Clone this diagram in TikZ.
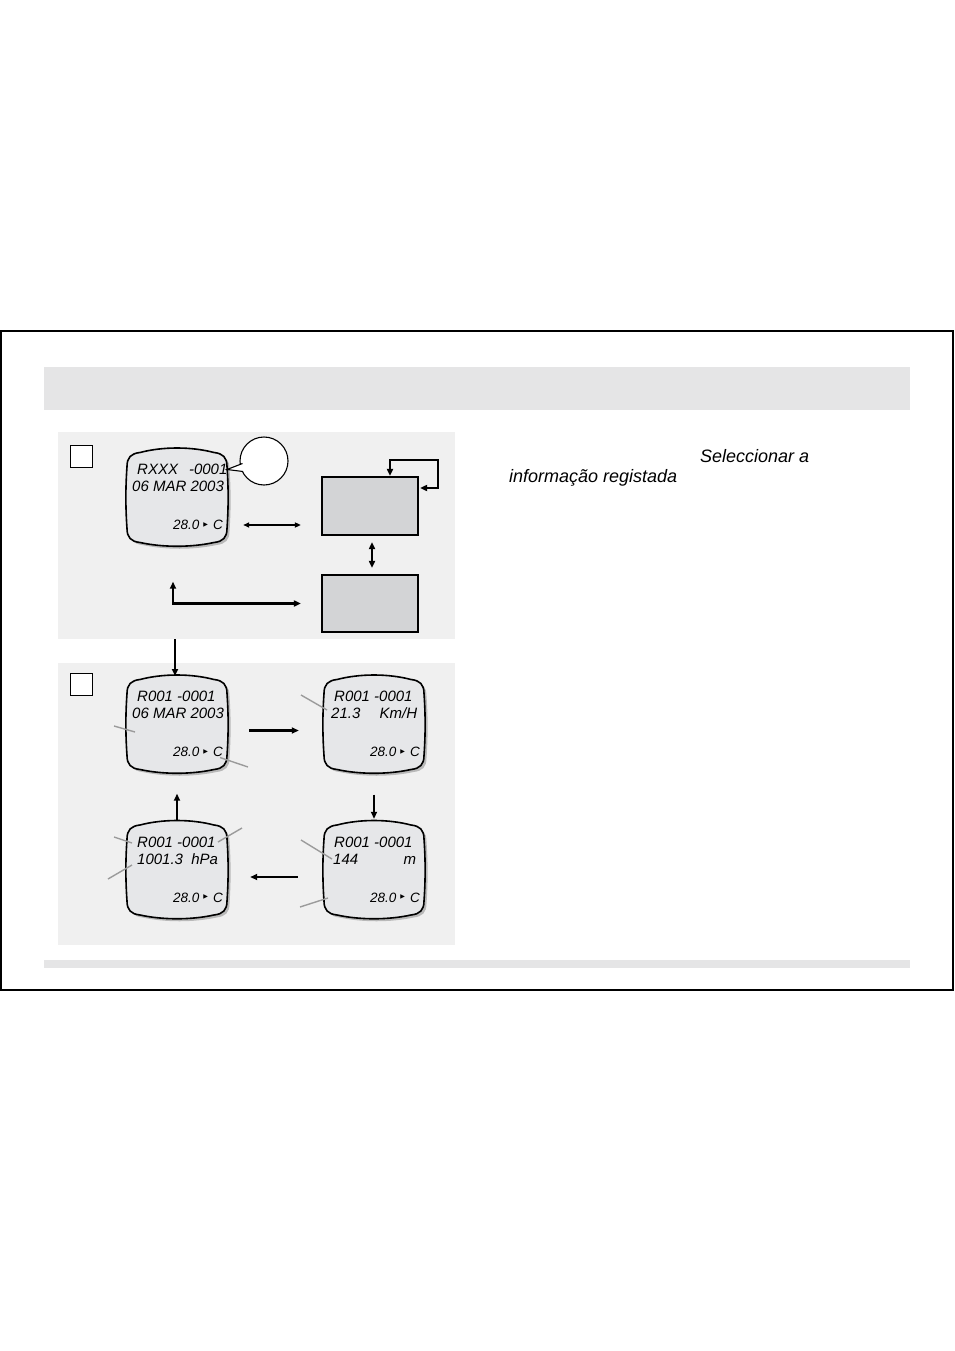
\documentclass[tikz,border=0pt]{standalone}
\usepackage{fontspec}
\setmainfont{Liberation Sans}
\newfontfamily\symfont{DejaVu Sans}
\usetikzlibrary{arrows.meta,calc,positioning}

\definecolor{bandgray}{HTML}{E5E5E6}
\definecolor{panelgray}{HTML}{F0F0F0}
\definecolor{screengray}{HTML}{E6E7E9}
\definecolor{boxgray}{HTML}{D3D4D6}
\definecolor{leadgray}{HTML}{9B9B9B}

% one display screen: name, x, y, first line, second line
\newcommand{\lcdscreen}[5]{%
  \pic at (#2,#3) {lcd};
  \node[lcdbox] (#1) at (#2,#3) {};
  \node[lcdtext, anchor=base west] at ({#2-40},{#3-23}) {#4};
  \node[lcdtext, anchor=base west] at ({#2-45},{#3-6}) {#5};
  \node[temptext, anchor=base east] at ({#2+46},{#3+32}) {28.0\hspace{4pt}\raisebox{3.5pt}{\symfont\fontsize{6}{6}\selectfont ▶}\hspace{5pt}C};
}

\begin{document}
\begin{tikzpicture}[x=1pt,y=-1pt,
    lcdoutline/.style={insert path={(-37,-45) .. controls (-14,-51) and (14,-51) .. (37,-45)
      .. controls (46,-44) and (50,-40) .. (50,-31) .. controls (51.5,-10) and (51.5,10) .. (50,31)
      .. controls (50,40) and (46,44) .. (37,45) .. controls (14,50) and (-14,50) .. (-37,45)
      .. controls (-46,44) and (-50,40) .. (-50,31) .. controls (-51.5,10) and (-51.5,-10) .. (-50,-31)
      .. controls (-50,-40) and (-46,-44) .. (-37,-45) -- cycle}},
    lcd/.pic={
      \fill[gray!55, shift={(2.5,2.5)}, lcdoutline];
      \draw[line width=1.6pt, fill=screengray, lcdoutline];
    },
    lcdbox/.style={rectangle, minimum width=100pt, minimum height=96pt, inner sep=0pt},
    lcdtext/.style={inner sep=0pt, font=\fontsize{15}{17}\selectfont\itshape},
    temptext/.style={inner sep=0pt, font=\fontsize{13.5}{15}\selectfont\itshape},
    infotext/.style={inner sep=0pt, font=\fontsize{18}{20}\selectfont\itshape},
    panel/.style={rectangle, fill=panelgray, inner sep=0pt},
    stepbox/.style={rectangle, draw, fill=white, line width=0.9pt, minimum size=22pt, inner sep=0pt},
    greybox/.style={rectangle, draw, fill=boxgray, line width=2.2pt, minimum width=96pt, inner sep=0pt},
    conn/.style={line width=2.2pt, >={Triangle[length=7pt,width=6pt]}},
    thinconn/.style={line width=1.6pt, >={Triangle[length=6pt,width=5pt]}},
    leader/.style={leadgray, line width=1.4pt}]

\useasboundingbox[fill=white] (0,0) rectangle (954,1351);

% frame and bands
\draw[line width=1.5pt] (1,331) rectangle (953,990);
\fill[bandgray] (44,367) rectangle (910,410);
\fill[bandgray] (44,960) rectangle (910,968);

% panels
\node[panel, minimum width=397pt, minimum height=207pt] (panelOne) at (256.5,535.5) {};
\node[panel, minimum width=397pt, minimum height=282pt] (panelTwo) at (256.5,804) {};
\node[stepbox] (stepOne) at (81,456) {};
\node[stepbox] (stepTwo) at (81,684) {};

% first panel
\lcdscreen{lcdR}{177}{497.5}{RXXX\hspace{11pt}-0001}{06 MAR 2003}
\node[circle, draw, fill=white, line width=1.1pt, minimum size=48pt, inner sep=0pt] (bubble) at (264,461) {};
\fill[white] ($(bubble.center)+(-20,2.5)$) -- ($(bubble.center)+(-37,8.5)$) -- ($(bubble.center)+(-19,10.5)$) -- cycle;
\draw[line width=1.1pt] ($(bubble.center)+(-21.5,2.5)$) -- ($(bubble.center)+(-37,8.5)$) -- ($(bubble.center)+(-21,10.5)$);

\node[greybox, minimum height=58pt] (boxTop) at (370,506) {};
\node[greybox, minimum height=57pt] (boxBot) at (370,603.5) {};

\draw[thinconn, <->] ($(lcdR.east)+(16,27.5)$) -- ($(boxTop.west)+(-20,19)$);
\draw[conn, <->, shorten <=6pt, shorten >=6pt] ([xshift=2pt]boxTop.south) -- ([xshift=2pt]boxBot.north);
\draw[conn, line width=2.8pt, <->] ([xshift=20pt]boxTop.north) -- ++(0,-16) -- ++(48,0) |- ($(boxTop.east)+(1,-18)$);
\draw[conn, <->] ($(lcdR.south)+(-4,36)$) |- ($(boxBot.west)+(-20,0)$);

\draw[conn, ->] ([xshift=-2pt]lcdR.south |- panelOne.south) -- ([xshift=-2pt]lcdR.south |- 0,676);

% second panel
\lcdscreen{lcdA}{177}{724.5}{R001 -0001}{06 MAR 2003}
\lcdscreen{lcdB}{374}{724.5}{R001 -0001}{\makebox[88pt][l]{\hspace*{2pt}21.3\hfill Km/H}}
\lcdscreen{lcdC}{177}{870}{R001 -0001}{\hspace*{5pt}1001.3\ \ hPa}
\lcdscreen{lcdD}{374}{870}{R001 -0001}{\makebox[87pt][l]{\hspace*{4pt}144\hfill m}}

\draw[conn, ->] ($(lcdA.east)+(22,6)$) -- ($(lcdB.west)+(-25,6)$);
\draw[conn, ->, shorten <=22pt, shorten >=3pt] (lcdB.south) -- (lcdD.north);
\draw[conn, ->] ($(lcdD.west)+(-26,7)$) -- ($(lcdC.east)+(23,7)$);
\draw[conn, ->, shorten <=2pt, shorten >=21pt] (lcdC.north) -- (lcdA.south);

% leaders
\draw[leader] ($(lcdA.center)+(-63,1.5)$) -- ++(21,6);
\draw[leader] ($(lcdA.center)+(43,33)$) -- ++(28,9.5);
\draw[leader] ($(lcdB.center)+(-73,-29.5)$) -- ++(26,15);
\draw[leader] ($(lcdC.center)+(-63,-33)$) -- ++(18,6);
\draw[leader] ($(lcdC.center)+(65,-42)$) -- ++(-24,14);
\draw[leader] ($(lcdC.center)+(-69,9)$) -- ++(24,-14);
\draw[leader] ($(lcdD.center)+(-73,-30)$) -- ++(31,19);
\draw[leader] ($(lcdD.center)+(-74,37)$) -- ++(28,-9);

% text on the right
\node[infotext, anchor=base west] (selText) at (700,462) {Seleccionar a};
\node[infotext, anchor=base west] (infoText) at (509,482) {informação registada};

\end{tikzpicture}
\end{document}
